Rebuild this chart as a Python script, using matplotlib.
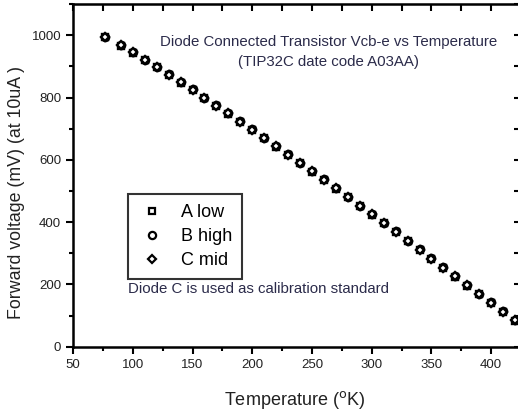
import matplotlib
matplotlib.use("Agg")
import matplotlib.pyplot as plt
from matplotlib.lines import Line2D
from matplotlib.ticker import MultipleLocator

plt.rcParams['font.family'] = ['Liberation Sans', 'DejaVu Sans']

temps = [77, 90, 100, 110, 120, 130, 140, 150, 160, 170, 180, 190, 200, 210, 220,
         230, 240, 250, 260, 270, 280, 290, 300, 310, 320, 330, 340, 350, 360, 370,
         380, 390, 400, 410, 420]
v_a_low = [994, 967, 944, 920, 897, 873, 848, 824, 798, 773, 748, 722, 696, 669, 642,
           616, 589, 562, 535, 508, 480, 451, 424, 396, 368, 339, 311, 282, 253, 225,
           196, 168, 140, 112, 84]
v_b_high = [996, 969, 946, 922, 899, 875, 850, 826, 800, 775, 750, 724, 698, 671, 644,
            618, 591, 564, 537, 510, 482, 453, 426, 398, 370, 341, 313, 284, 255, 227,
            198, 170, 142, 114, 86]
v_c_mid = [995, 968, 945, 921, 898, 874, 849, 825, 799, 774, 749, 723, 697, 670, 643,
           617, 590, 563, 536, 509, 481, 452, 425, 397, 369, 340, 312, 283, 254, 226,
           197, 169, 141, 113, 85]
series_labels = ["A low", "B high", "C mid"]
series_markers = ["s", "o", "D"]
marker_sizes = {"s": 4.2, "o": 5.2, "D": 4.0}

tc = "#222222"
txtc = "#2b2b4a"
fig = plt.figure(figsize=(5.18, 4.13), dpi=100)
ax = fig.add_axes([0.141, 0.1605, 0.865, 0.8295])

for vals, m in zip([v_a_low, v_b_high, v_c_mid], series_markers):
    ax.plot(temps, vals, linestyle="none", marker=m, markersize=marker_sizes[m],
            markerfacecolor="white", markeredgecolor="black", markeredgewidth=1.7)

ax.set_xlim(50, 425)
ax.set_ylim(0, 1100)
ax.xaxis.set_major_locator(MultipleLocator(50))
ax.xaxis.set_minor_locator(MultipleLocator(25))
ax.yaxis.set_major_locator(MultipleLocator(200))
ax.yaxis.set_minor_locator(MultipleLocator(100))
ax.tick_params(which="both", width=1.5, labelsize=9.5, labelcolor=tc)
ax.tick_params(which="major", direction="out", length=5)
ax.tick_params(which="minor", direction="out", length=3)
ax.tick_params(top=False, right=False, which="both")
for s in ax.spines.values():
    s.set_linewidth(1.8)

ax2 = ax.secondary_xaxis("top")
ax2.xaxis.set_major_locator(MultipleLocator(25))
ax2.tick_params(direction="in", length=5, width=1.5, labeltop=False)
ax2.set_xticklabels([])
ax3 = ax.secondary_yaxis("right")
ax3.yaxis.set_major_locator(MultipleLocator(100))
ax3.tick_params(direction="in", length=5, width=1.5, labelright=False)
ax3.set_yticklabels([])

fig.text(0.568, 0.0194, "Temperature ($^{\\rm o}$K)", fontsize=13, color=tc,
         ha="center", va="baseline")
fig.text(0.032, 0.535, "Forward voltage (mV) (at 10uA )", fontsize=12.8, color=tc,
         ha="center", va="center", rotation=90)

ax.text(0.571, 0.878, "Diode Connected Transistor Vcb-e vs Temperature",
        transform=ax.transAxes, ha="center", va="baseline", fontsize=10.8, color=txtc)
ax.text(0.571, 0.8205, "(TIP32C date code A03AA)",
        transform=ax.transAxes, ha="center", va="baseline", fontsize=10.8, color=txtc)
ax.text(0.122, 0.168, "Diode C is used as calibration standard", transform=ax.transAxes,
        ha="left", va="center", fontsize=10.8, color=txtc)

handles = [Line2D([], [], linestyle="none", marker=m, markersize=marker_sizes[m],
                  markerfacecolor="white", markeredgecolor="black", markeredgewidth=1.6)
           for m in series_markers]
leg = ax.legend(handles, series_labels, loc="upper left", bbox_to_anchor=(0.1228, 0.4456),
                fontsize=13, frameon=True, fancybox=False, edgecolor="black",
                handletextpad=0.83, labelspacing=0.4, borderpad=0.55, handlelength=1.55,
                borderaxespad=0)
leg.get_frame().set_linewidth(1.5)

fig.savefig("out.png", dpi=100)
